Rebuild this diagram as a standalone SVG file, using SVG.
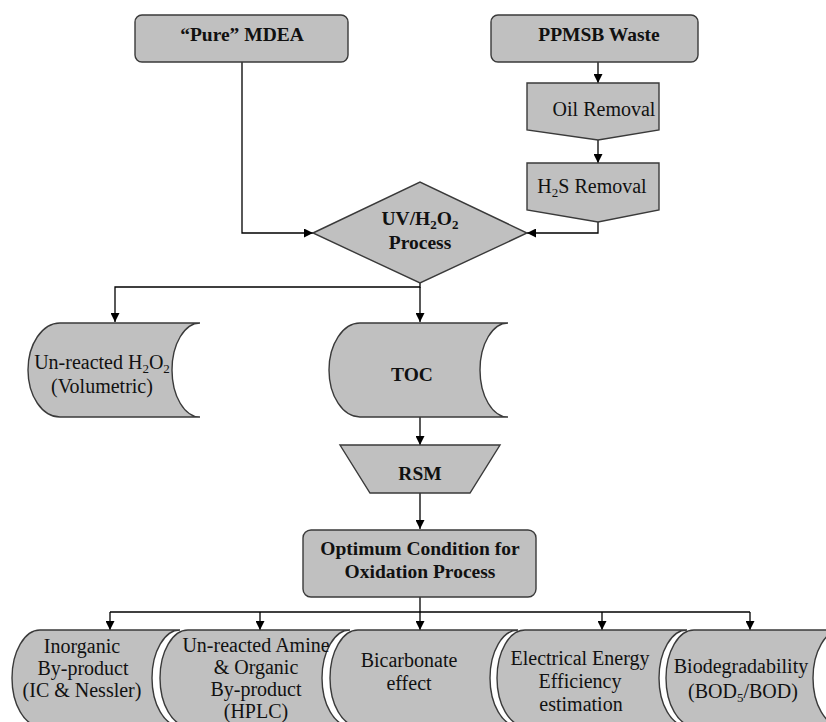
<svg xmlns="http://www.w3.org/2000/svg" width="826" height="722" viewBox="0 0 826 722" font-family="Liberation Serif, DejaVu Serif, serif">
<style>
.n{fill:#c0c0c0;stroke:#3a3a3a;stroke-width:1.4}
.t{font-size:20px;fill:#111;text-anchor:middle}
.b{font-size:19.5px;font-weight:bold;fill:#111;text-anchor:middle}
.c{fill:none;stroke:#000;stroke-width:1.3}
</style>
<defs>
<marker id="ah" viewBox="0 0 10 10" refX="10" refY="5" markerWidth="10" markerHeight="9" markerUnits="userSpaceOnUse" orient="auto"><path d="M0,0 L10,5 L0,10 Z" fill="#000"/></marker>
</defs>
<rect width="826" height="722" fill="#fff"/>

<g id="connectors">
<path class="c" d="M598,62 V83" marker-end="url(#ah)"/>
<path class="c" d="M598,140 V163" marker-end="url(#ah)"/>
<path class="c" d="M598,222 V233 H527" marker-end="url(#ah)"/>
<path class="c" d="M242,62 V233 H313" marker-end="url(#ah)"/>
<path class="c" d="M420,283 V287 H115 V322" marker-end="url(#ah)"/>
<path class="c" d="M420,287 V322" marker-end="url(#ah)"/>
<path class="c" d="M420,417 V445" marker-end="url(#ah)"/>
<path class="c" d="M420,493 V529" marker-end="url(#ah)"/>
<path class="c" d="M420,597 V630" marker-end="url(#ah)"/>
<path class="c" d="M110,612 H750"/>
<path class="c" d="M110,612 V630" marker-end="url(#ah)"/>
<path class="c" d="M260,612 V630" marker-end="url(#ah)"/>
<path class="c" d="M602,612 V630" marker-end="url(#ah)"/>
<path class="c" d="M750,612 V630" marker-end="url(#ah)"/>
</g>

<g id="pure-mdea">
<rect class="n" x="135" y="15" width="213" height="47" rx="7"/>
<text class="b" x="242" y="41">“Pure” MDEA</text>
</g>

<g id="ppmsb-waste">
<rect class="n" x="491" y="15" width="207" height="47" rx="7"/>
<text class="b" x="599" y="41">PPMSB Waste</text>
</g>

<g id="oil-removal">
<polygon class="n" points="527,83 659,83 659,130 598,140 527,130"/>
<text class="t" x="604" y="116">Oil Removal</text>
</g>

<g id="h2s-removal">
<polygon class="n" points="527,163 659,163 659,210 598,222 527,210"/>
<text class="t" x="592" y="193">H<tspan font-size="13" dy="4">2</tspan><tspan dy="-4">S Removal</tspan></text>
</g>

<g id="uv-process">
<polygon class="n" points="313,233 420,182 527,233 420,283"/>
<text class="b" x="420" y="225">UV/H<tspan font-size="13" dy="4">2</tspan><tspan dy="-4">O</tspan><tspan font-size="13" dy="4">2</tspan></text>
<text class="b" x="420" y="249">Process</text>
</g>

<g id="unreacted-h2o2">
<path class="n" d="M60,323 H200 A28,47 0 0 0 200,417 H60 A32,47 0 0 1 60,323 Z"/>
<text class="t" x="102" y="369">Un-reacted H<tspan font-size="13" dy="4">2</tspan><tspan dy="-4">O</tspan><tspan font-size="13" dy="4">2</tspan></text>
<text class="t" x="102" y="393">(Volumetric)</text>
</g>

<g id="toc">
<path class="n" d="M360,323 H508 A28,47 0 0 0 508,417 H360 A31,47 0 0 1 360,323 Z"/>
<text class="b" x="412" y="381">TOC</text>
</g>

<g id="rsm">
<polygon class="n" points="340,445 500,445 470,493 370,493"/>
<text class="b" x="420" y="480">RSM</text>
</g>

<g id="optimum">
<rect class="n" x="303" y="530" width="233" height="67" rx="8"/>
<text class="b" x="420" y="555">Optimum Condition for</text>
<text class="b" x="420" y="578">Oxidation Process</text>
</g>

<g id="inorganic">
<path class="n" d="M40,630 H180 A28,48 0 0 0 180,726 H40 A28,48 0 0 1 40,630 Z"/>
<text class="t" x="82" y="653">Inorganic</text>
<text class="t" x="83" y="675">By-product</text>
<text class="t" x="82" y="697">(IC &amp; Nessler)</text>
</g>

<g id="amine">
<path class="n" d="M188,630 H350 A28,48 0 0 0 350,726 H188 A28,48 0 0 1 188,630 Z"/>
<text class="t" x="256" y="652">Un-reacted Amine</text>
<text class="t" x="256" y="674">&amp; Organic</text>
<text class="t" x="256" y="696">By-product</text>
<text class="t" x="256" y="718">(HPLC)</text>
</g>

<g id="bicarbonate">
<path class="n" d="M358,630 H518 A28,48 0 0 0 518,726 H358 A28,48 0 0 1 358,630 Z"/>
<text class="t" x="409" y="667">Bicarbonate</text>
<text class="t" x="409" y="690">effect</text>
</g>

<g id="energy">
<path class="n" d="M525,630 H687 A28,48 0 0 0 687,726 H525 A28,48 0 0 1 525,630 Z"/>
<text class="t" x="580" y="665">Electrical Energy</text>
<text class="t" x="580" y="688">Efficiency</text>
<text class="t" x="581" y="711">estimation</text>
</g>

<g id="biodegradability">
<path class="n" d="M694,630 H841 A28,48 0 0 0 841,726 H694 A28,48 0 0 1 694,630 Z"/>
<text class="t" x="741" y="673">Biodegradability</text>
<text class="t" x="743" y="698">(BOD<tspan font-size="13" dy="4">5</tspan><tspan dy="-4">/BOD)</tspan></text>
</g>
</svg>
